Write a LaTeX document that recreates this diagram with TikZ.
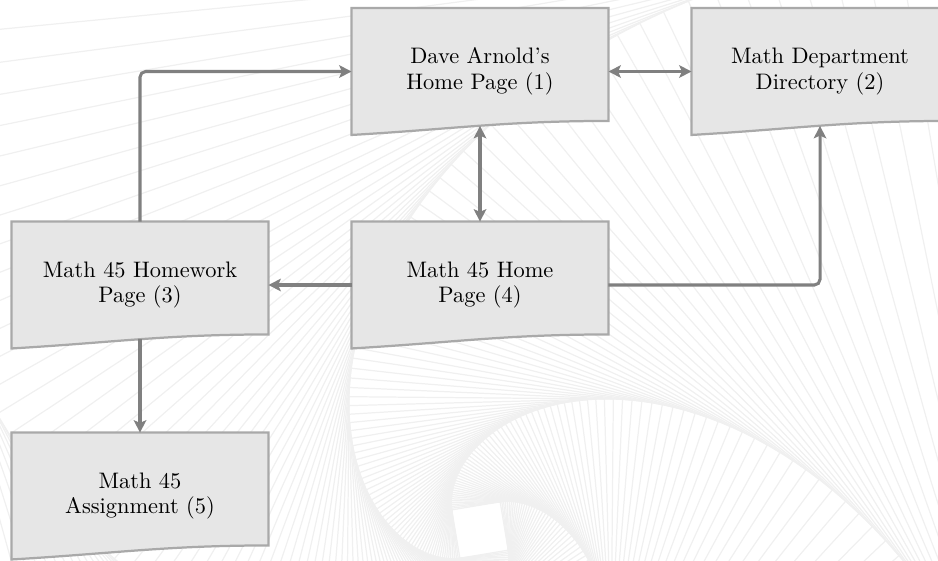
\documentclass[tikz,border=0pt]{standalone}
\usetikzlibrary{arrows.meta,calc}
\definecolor{bgsq}{HTML}{F0F0F0}
\definecolor{boxfill}{HTML}{E6E6E6}
\definecolor{boxline}{HTML}{A9A9A9}
\definecolor{arrcol}{HTML}{808080}
\pgfdeclarelayer{back}
\pgfsetlayers{back,main}
\tikzset{
  bgline/.style={draw=bgsq, line width=0.55pt},
  page/.style={minimum width=114.3pt, minimum height=56.25pt, inner sep=0pt,
    align=center, font=\fontsize{10}{11.4}\selectfont},
  docshape/.style={fill=boxfill, draw=boxline, line width=1pt},
  conn/.style={draw=arrcol, line width=1.35pt, rounded corners=2.5pt},
  >={Stealth[length=5.5pt,width=5.6pt,inset=1.2pt]}
}
\newcommand\docpath[1]{%
  \path[docshape] (#1.south west) -- (#1.north west) -- (#1.north east)
    -- ($(#1.south east)+(0,-14)$)
    .. controls ($(#1.south west)!0.6!(#1.south east)+(0,-14)$)
    and ($(#1.south west)!0.4!(#1.south east)+(0,-6)$) .. (#1.south west) -- cycle;}
\begin{document}
\begin{tikzpicture}[x=0.4464pt, y=-0.4464pt]
\useasboundingbox (0,0) rectangle (938,560);
\node[page] (n1) at (480,71.5) {Dave Arnold's\\Home Page (1)};
\node[page] (n2) at (820,71.5) {Math Department\\Directory (2)};
\node[page] (n3) at (140,285) {Math 45 Homework\\Page (3)};
\node[page] (n4) at (480,285) {Math 45 Home\\Page (4)};
\node[page] (n5) at (140,496) {Math 45\\Assignment (5)};
\begin{pgfonlayer}{back}
  \begin{scope}
    \clip (0,0) rectangle (938,560);
    \begin{scope}[shift={(480,530)}]
      \foreach \i in {0,...,105}{
        \pgfmathsetmacro\a{24.5*1.03429^\i}
        \draw[bgline, rotate=9.5-2*\i] (-\a,-\a) rectangle (\a,\a);
      }
    \end{scope}
    \docpath{n1}
    \docpath{n2}
    \docpath{n3}
    \docpath{n4}
    \docpath{n5}
  \end{scope}
\end{pgfonlayer}
\draw[conn,<->] (n1.east) -- (n2.west);
\draw[conn,<->] ($(n1.south)+(0,-9)$) -- (n4.north);
\draw[conn,->] (n3.north) |- (n1.west);
\draw[conn,->] (n4.west) -- (n3.east);
\draw[conn,->] (n4.east) -| ($(n2.south)+(0,-9)$);
\draw[conn,->] ($(n3.south)+(0,-9)$) -- (n5.north);
\end{tikzpicture}
\end{document}
